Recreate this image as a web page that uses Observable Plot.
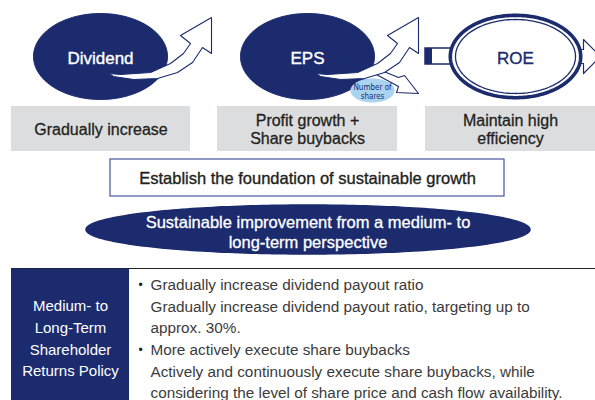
<!DOCTYPE html>
<html><head><meta charset="utf-8">
<script src="https://cdn.jsdelivr.net/npm/d3@7"></script>
<script src="https://cdn.jsdelivr.net/npm/@observablehq/plot@0.6"></script>
<style>html,body{margin:0;padding:0;background:#fff;overflow:hidden}</style>
</head><body><div id="chart"></div>
<script>
// ---------- data (texts of the diagram) ----------
const categories = ["Dividend", "EPS", "ROE"];
const categoryGoals = ["Gradually increase", "Profit growth +\nShare buybacks", "Maintain high\nefficiency"];
const sharesLabel = ["Number of\nshares"];
const foundationLabel = ["Establish the foundation of sustainable growth"];
const perspectiveLabel = ["Sustainable improvement from a medium- to\nlong-term perspective"];
const policyTitle = ["Medium- to", "Long-Term", "Shareholder", "Returns Policy"];
const policyHeads = ["Gradually increase dividend payout ratio", "More actively execute share buybacks"];
const policyDetails = [
  ["Gradually increase dividend payout ratio, targeting up to", "approx. 30%."],
  ["Actively and continuously execute share buybacks, while", "considering the level of share price and cash flow availability."]
];

// ---------- layout (geometry of the drawing) ----------
const W = 595, H = 400;
const NAVY = "#1b2b6e", GRAY = "#dcdddf", INK = "#231f20", BODY = "#3b3b3b", SKY = "#a9d3ef";
const FONT = "'Liberation Sans', Arial, Helvetica, sans-serif";
const colCenter = [100, 307, 515];
const boxSpan = [[11, 190], [217, 397], [425, 595]];
const ovalY = 56, ovalRx = 67, ovalRy = 43;

const cols = categories.map((name, i) => ({
  name, goal: categoryGoals[i], cx: colCenter[i],
  bx1: boxSpan[i][0], bx2: boxSpan[i][1]
}));

function ellipsePts(key, cx, cy, rx, ry, n = 160) {
  return d3.range(n).map(k => {
    const t = (k / n) * 2 * Math.PI;
    return {key, x: cx + rx * Math.cos(t), y: cy + ry * Math.sin(t)};
  });
}
function shape(key, cx, cy, offsets) {
  return offsets.map(([dx, dy]) => ({key, x: cx + dx, y: cy + dy}));
}
// curved "growth" arrow, offsets relative to oval centre
const growthArrow = [[8,17],[20,18],[50,16],[70,7],[83,-3],[90,-13],[80,-21],[111,-39],[111,-3],[102,-9],[92,6],[77,16],[57,22],[33,23],[13,20]];
// smaller down-right arrow (number of shares), relative to EPS oval centre
const sharesArrow = [[69,12],[91,21],[97,19],[111,37],[89,36],[91,30],[67,17]];
// arrow leaving ROE to the right
const roeArrow = [[60,-7],[68,-7],[68,-17],[85,0],[68,17],[68,7],[60,7]];

const navyOvals = cols.slice(0, 2).flatMap(c => ellipsePts(c.name, c.cx, ovalY, ovalRx, ovalRy));
const arrows = cols.slice(0, 2).flatMap(c => shape(c.name, c.cx, ovalY, growthArrow));
const eps = cols[1], roe = cols[2];
const sharesOval = ellipsePts("shares", eps.cx + 65, 90, 22, 12);
const sharesArr = shape("sharesArrow", eps.cx, ovalY, sharesArrow);
const roeOuter = ellipsePts("roeOuter", roe.cx, ovalY, ovalRx - 1.8, ovalRy - 1.8);
const roeInner = ellipsePts("roeInner", roe.cx, ovalY, ovalRx - 7, ovalRy - 6);
const roeOut = shape("roeOut", roe.cx, ovalY, roeArrow);
const connector = [{x1: 425, x2: 455, y1: 48, y2: 64}];
const connectorTab = [{x1: 425, x2: 432, y1: 48, y2: 64}];

const foundationBox = [{x1: 110, x2: 504, y1: 159, y2: 196}];
const perspectiveOval = ellipsePts("persp", 307.5, 229, 222, 24.5, 240);

const tableTop = 268, cellX2 = 129;
const titleRows = policyTitle.map((t, i) => ({t, y: 306 + i * 21.7}));
const bulletRows = policyHeads.map((t, g) => ({t, y: 285 + g * 65}));
const detailRows = policyDetails.flatMap((lines, g) => lines.map((t, j) => ({t, y: 285 + g * 65 + (j + 1) * 21.5})));

const chart = Plot.plot({
  width: W, height: H, margin: 0,
  x: {domain: [0, W], range: [0, W], axis: null},
  y: {domain: [0, H], range: [0, H], axis: null},
  style: {fontFamily: FONT, background: "white", overflow: "hidden"},
  marks: [
    // grey goal boxes
    Plot.rect(cols, {x1: "bx1", x2: "bx2", y1: 106, y2: 151, fill: GRAY}),
    Plot.text(cols, {x: d => (d.bx1 + d.bx2) / 2, y: 128.5, text: "goal", fill: INK, stroke: INK, strokeWidth: 0.3, fontSize: 16, lineHeight: 1.12}),
    // Dividend and EPS ovals
    Plot.line(navyOvals, {x: "x", y: "y", z: "key", fill: NAVY, stroke: NAVY, strokeWidth: 1, curve: "linear-closed"}),
    Plot.line(sharesOval, {x: "x", y: "y", fill: SKY, stroke: "none", curve: "linear-closed"}),
    Plot.text(sharesLabel, {x: eps.cx + 65, y: 91, text: d => d, fill: NAVY, fontSize: 8, lineHeight: 1.2,
      fontFamily: "'Liberation Sans Narrow', 'DejaVu Sans Condensed', sans-serif"}),
    Plot.line(sharesArr, {x: "x", y: "y", fill: "white", stroke: NAVY, strokeWidth: 1.1, curve: "linear-closed"}),
    Plot.line(arrows, {x: "x", y: "y", z: "key", fill: "white", stroke: NAVY, strokeWidth: 1.1, curve: "linear-closed"}),
    Plot.text(cols.slice(0, 2), {x: "cx", y: 58, text: "name", fill: "white", stroke: "white", strokeWidth: 0.35, fontSize: 17}),
    // ROE
    Plot.line(roeOut, {x: "x", y: "y", fill: "white", stroke: NAVY, strokeWidth: 1.2, curve: "linear-closed", clip: true}),
    Plot.rect(connector, {x1: "x1", x2: "x2", y1: "y1", y2: "y2", fill: "white", stroke: NAVY, strokeWidth: 1.5}),
    Plot.rect(connectorTab, {x1: "x1", x2: "x2", y1: "y1", y2: "y2", fill: NAVY}),
    Plot.line(roeOuter, {x: "x", y: "y", fill: "white", stroke: NAVY, strokeWidth: 3.6, curve: "linear-closed"}),
    Plot.line(roeInner, {x: "x", y: "y", fill: "none", stroke: NAVY, strokeWidth: 1.3, curve: "linear-closed"}),
    Plot.text([roe], {x: "cx", y: 58, text: "name", fill: NAVY, stroke: NAVY, strokeWidth: 0.35, fontSize: 17}),
    // foundation box
    Plot.rect(foundationBox, {x1: "x1", x2: "x2", y1: "y1", y2: "y2", fill: "white", stroke: "#46559a", strokeWidth: 1.2}),
    Plot.text(foundationLabel, {x: 307, y: 178, text: d => d, fill: INK, stroke: INK, strokeWidth: 0.35, fontSize: 16.5}),
    // perspective oval
    Plot.line(perspectiveOval, {x: "x", y: "y", fill: NAVY, stroke: NAVY, curve: "linear-closed"}),
    Plot.text(perspectiveLabel, {x: 307.5, y: 231, text: d => d, fill: "white", stroke: "white", strokeWidth: 0.3, fontSize: 16.5, lineHeight: 1.2}),
    // policy table
    Plot.ruleY([tableTop], {x1: 11, x2: W, stroke: "#222", strokeWidth: 1}),
    Plot.rect([{}], {x1: 11, x2: cellX2, y1: tableTop + 0.5, y2: H, fill: NAVY}),
    Plot.text(titleRows, {x: 70, y: "y", text: "t", fill: "white", fontSize: 15}),
    Plot.text(bulletRows, {x: 140, y: "y", text: () => "•", fill: "#222", fontSize: 12}),
    Plot.text(bulletRows, {x: 150, y: "y", text: "t", fill: BODY, fontSize: 15.3, textAnchor: "start"}),
    Plot.text(detailRows, {x: 150, y: "y", text: "t", fill: BODY, fontSize: 15.3, textAnchor: "start"})
  ]
});
document.getElementById("chart").appendChild(chart);
</script></body></html>
